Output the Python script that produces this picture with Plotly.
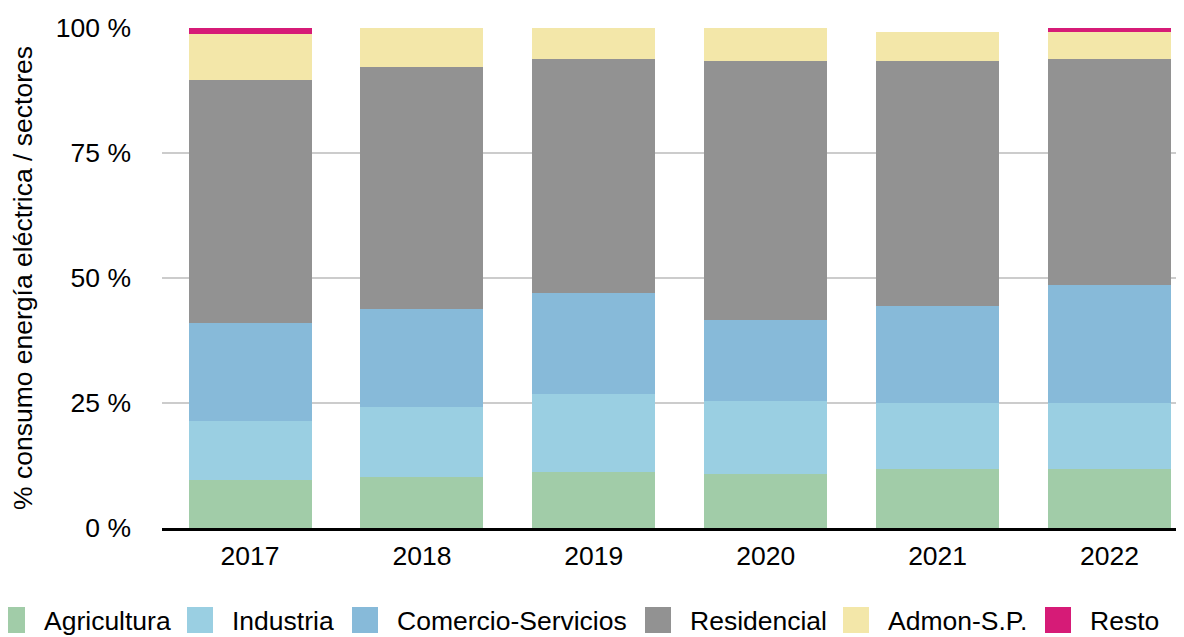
import plotly.graph_objects as go

years = ["2017", "2018", "2019", "2020", "2021", "2022"]

agricultura = [9.7, 10.3, 11.3, 10.9, 11.9, 11.9]
industria = [11.8, 13.9, 15.6, 14.5, 13.2, 13.2]
comercio_servicios = [19.6, 19.7, 20.2, 16.3, 19.4, 23.6]
residencial = [48.6, 48.4, 46.8, 51.8, 49.0, 45.2]
admon_sp = [9.2, 7.7, 6.1, 6.5, 5.8, 5.4]
resto = [1.1, 0.0, 0.0, 0.0, 0.0, 0.7]

series_names = ["Agricultura", "Industria", "Comercio-Servicios", "Residencial", "Admon-S.P.", "Resto"]
series_values = [agricultura, industria, comercio_servicios, residencial, admon_sp, resto]
series_colors = ["#a1cca8", "#9acfe2", "#87bad9", "#929292", "#f3e7a9", "#d61b77"]

y_tickvals = [0, 25, 50, 75, 100]
y_ticktext = ["0 %", "25 %", "50 %", "75 %", "100 %"]
y_title = "% consumo energía eléctrica / sectores"

FONT = "Liberation Sans, Arial, Helvetica, sans-serif"
FS = 26.5

# page is rendered with the default 8px body margin: work in page pixels, convert to figure pixels
OFF = 8
PAGE_W, PAGE_H = 1184, 637
W, H = PAGE_W - OFF, PAGE_H - OFF
PLOT_L, PLOT_R, PLOT_T, PLOT_B = 162, 1184, 28, 528   # page pixels
ML = PLOT_L - OFF
MR = PAGE_W - PLOT_R
MT = PLOT_T - OFF
MB = PAGE_H - PLOT_B
PW, PH = PLOT_R - PLOT_L, PLOT_B - PLOT_T

fig = go.Figure()
for name, vals, col in zip(series_names, series_values, series_colors):
    fig.add_trace(go.Bar(
        x=years, y=vals, name=name,
        marker=dict(color=col, line=dict(width=0)),
        showlegend=False,
    ))

# custom legend (large square swatches), positions in page pixels
swatch_left_px = [-1, 187, 352, 645, 843, 1045]
swatch_size = 26
legend_top_px = 607
label_offset_px = 43

def px_to_paper_x(px):
    return (px - PLOT_L) / PW

def px_to_paper_y(py):
    return (PLOT_B - py) / PH

shapes = []
annotations = []
for name, col, sx in zip(series_names, series_colors, swatch_left_px):
    shapes.append(dict(
        type="rect", xref="paper", yref="paper",
        x0=px_to_paper_x(sx), x1=px_to_paper_x(sx + swatch_size),
        y0=px_to_paper_y(legend_top_px + swatch_size), y1=px_to_paper_y(legend_top_px),
        fillcolor=col, line=dict(width=0), layer="above",
    ))
    annotations.append(dict(
        xref="paper", yref="paper",
        x=px_to_paper_x(sx + label_offset_px), y=px_to_paper_y(legend_top_px + swatch_size / 2 + 1),
        xanchor="left", yanchor="middle", showarrow=False,
        text=name, font=dict(family=FONT, size=FS, color="#000000"),
    ))

unit = (1109.5 - 250) / 5.0
x_lo = -(250 - PLOT_L) / unit
x_hi = 5 + (PLOT_R - 1109.5) / unit

fig.update_layout(
    width=W, height=H,
    margin=dict(l=ML, r=MR, t=MT, b=MB, autoexpand=False),
    barmode="stack",
    bargap=1 - 123 / unit,
    plot_bgcolor="white",
    paper_bgcolor="white",
    font=dict(family=FONT, size=FS, color="#000000"),
    shapes=shapes,
    annotations=annotations,
    showlegend=False,
    xaxis=dict(
        type="category",
        range=[x_lo, x_hi],
        showline=True, linecolor="#000000", linewidth=2.5,
        showgrid=False, ticks="",
        tickfont=dict(family=FONT, size=FS, color="#000000"),
        ticklabelstandoff=2,
        automargin=False,
    ),
    yaxis=dict(
        range=[0, 100],
        tickvals=y_tickvals, ticktext=y_ticktext,
        showgrid=True, gridcolor="#cccccc", gridwidth=1.6,
        zeroline=False, showline=False, ticks="",
        tickfont=dict(family=FONT, size=FS, color="#000000"),
        ticklabelstandoff=30,
        title=dict(text=y_title, font=dict(family=FONT, size=FS, color="#000000"), standoff=18),
        automargin=False,
    ),
)

fig.write_html("out.html")
